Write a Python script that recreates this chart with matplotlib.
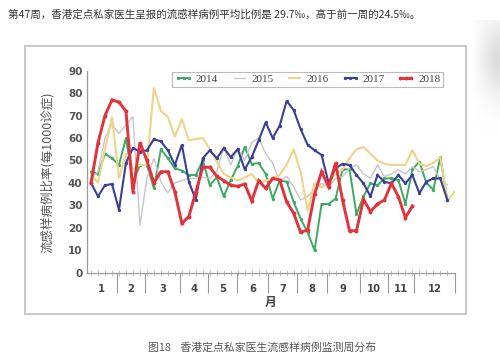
import matplotlib
matplotlib.use("Agg")
import matplotlib.pyplot as plt
import matplotlib.patches as mpatches
import matplotlib.transforms as mtransforms
import numpy as np

plt.rcParams['font.family'] = ['Noto Sans CJK SC', 'DejaVu Sans']

# ---------------- data ----------------
years = ["2014", "2015", "2016", "2017", "2018"]
ili_2014 = [45, 44, 53, 51, 48, 60, 40, 48, 48, 37.6,
            55, 51, 46.5, 45.5, 43.5, 43.5, 50, 39, 42.5, 34,
            41.3, 47.5, 56, 48.5, 48.8, 44, 33, 41, 40.6, 31.6,
            24, 18, 10, 30.6, 30.6, 33, 46, 46, 26, 34,
            39.8, 39, 42, 42, 41.3, 30.6, 46, 49.5, 40, 37,
            51.4, 32.4]
ili_2015 = [42, 45, 60, 66, 62, 66, 69.5, 21, 42, 51,
            40.5, 35.5, 40, 41, 42, 42, 42.5, 42, 45, 56,
            48, 55.5, 50, 58, 60, 53, 48.8, 40.6, 43, 38.3,
            32.4, 34, 37, 39.8, 38.3, 42, 42.8, 46.5, 48, 44,
            42, 48, 42.8, 44, 45.8, 44, 47.2, 45, 46, 47.2,
            41.3, 39]
ili_2016 = [44, 40, 55, 69.5, 42, 53, 46, 48, 48, 82.5,
            72, 69.5, 60.5, 68.5, 59, 59.5, 60, 55, 49.5, 44,
            42.5, 41, 42.5, 44, 40, 41, 42, 43.5, 48, 55,
            45, 27.5, 40, 38, 40, 44, 46, 51, 55, 56,
            53, 50, 48.5, 48, 48, 48, 54.7, 48.5, 47.5, 49,
            51.5, 32, 36]
ili_2017 = [40, 34, 39, 39.5, 28, 49, 55.5, 54, 54.5, 59.5,
            58.5, 54.5, 48, 57, 40.5, 32.5, 51, 54.5, 51, 55.5,
            51.5, 55, 46, 51.5, 59, 67, 60, 65.5, 76.5, 72.5,
            64, 57, 54.5, 52.5, 40, 46.5, 48.5, 48, 43.5, 39.8,
            34, 43.5, 40.5, 39.8, 43.5, 39.8, 43.5, 35.4, 40.6, 42,
            42, 32.4]
ili_2018 = [40, 58, 70, 77, 76, 72, 36, 58, 50, 40,
            45, 45, 36, 22, 25, 36, 47, 47, 43, 41,
            39, 38.5, 39.5, 32, 41, 37.6, 42, 41.3, 31.6, 26.5,
            18, 19, 35, 45, 38.3, 48.8, 32.4, 18.7, 18.7, 32.7,
            27.2, 30.6, 32.4, 39.8, 33.9, 24.5, 29.7]
month_labels = ["1", "2", "3", "4", "5", "6", "7", "8", "9", "10", "11", "12"]
month_edges = [0.38, 4.68, 8.73, 13.74, 17.75, 21.86, 26.34, 30.45, 34.74, 39.5, 43.5, 47.3, 53.1]
y_ticks = [0, 10, 20, 30, 40, 50, 60, 70, 80, 90]

title_text = "第47周，香港定点私家医生呈报的流感样病例平均比例是 29.7‰，高于前一周的24.5‰。"
caption_text = "图18    香港定点私家医生流感样病例监测周分布"
ylabel_text = "流感样病例比率(每1000诊症)"
xlabel_text = "月"

# ---------------- figure ----------------
W, H = 500, 359
fig = plt.figure(figsize=(W / 100, H / 100), dpi=100)
fig.patch.set_facecolor("white")

def fx(x):
    return x / W

def fy(y):
    return 1 - y / H

# soft grey blur at top right (edge of a neighbouring picture)
bax = fig.add_axes([fx(462), fy(130), fx(38), 110 / H])
bax.set_axis_off()
gx = np.linspace(0, 1, 60)
gy = np.linspace(0, 1, 120)
GX, GY = np.meshgrid(gx, gy)
blur = np.clip((GX - 0.25) * 1.6, 0, 1) * np.exp(-((GY - 0.35) / 0.35) ** 2)
rgba = np.zeros((120, 60, 4))
rgba[..., :3] = 0.62
rgba[..., 3] = 0.35 * blur
bax.imshow(rgba, aspect="auto", extent=[0, 1, 0, 1], interpolation="bilinear")

# chart frame
fig.patches.append(mpatches.Rectangle((fx(25), fy(314)), fx(441), (314 - 46) / H,
                                      transform=fig.transFigure, facecolor="white",
                                      edgecolor="#c4c4c4", lw=1.3, zorder=1))

fig.text(fx(8), fy(15), title_text, fontsize=7.6, color="#333333", va="center", ha="left")
fig.text(fx(262), fy(347), caption_text, fontsize=7.8, color="#555555", va="center", ha="center")

ax = fig.add_axes([fx(86.7), fy(272.7), fx(455 - 86.7), (272.7 - 70.7) / H])
ax.set_zorder(2)
ax.patch.set_alpha(0)

series = [
    (ili_2014, "#3daa62", 1.4, "o", 2.4),
    (ili_2015, "#c6c6cc", 1.0, None, 0),
    (ili_2016, "#ecd488", 1.5, None, 0),
    (ili_2017, "#3a3f98", 1.5, "o", 2.4),
    (ili_2018, "#e2323c", 2.1, "o", 2.8),
]
handles = []
for (vals, col, lw, mk, ms), lab in zip(series, years):
    wk = np.arange(1, len(vals) + 1)
    ln, = ax.plot(wk, vals, color=col, lw=lw, marker=mk, markersize=ms,
                  markeredgewidth=0, label=lab, solid_joinstyle="miter")
    handles.append(ln)

ax.set_xlim(month_edges[0], month_edges[-1])
ax.set_ylim(0, 90)
ax.set_yticks(y_ticks)
ax.set_yticklabels([str(v) for v in y_ticks], fontsize=7.5, color="#555555",
                   family=["DejaVu Sans"], fontweight="bold")
ax.tick_params(axis="y", length=0, pad=3)

ax.set_xticks(month_edges[1:])
ax.set_xticklabels([])
ax.tick_params(axis="x", which="major", length=14.5, width=0.8, color="#9a9a9a", direction="out")
ax.set_xticks(np.arange(1, 53), minor=True)
ax.tick_params(axis="x", which="minor", length=4, width=0.5, color="#aaaaaa", direction="inout")

for s in ["top", "right"]:
    ax.spines[s].set_visible(False)
for s in ["left", "bottom"]:
    ax.spines[s].set_color("#9a9a9a")
    ax.spines[s].set_linewidth(0.9)

trans = mtransforms.blended_transform_factory(ax.transData, ax.transAxes)
for i, lab in enumerate(month_labels):
    c = (month_edges[i] + month_edges[i + 1]) / 2
    ax.text(c, -0.083, lab, transform=trans, ha="center", va="center",
            fontsize=7.2, color="#444444", family=["DejaVu Sans"], fontweight="bold")

fig.text(fx(271), fy(302), xlabel_text, fontsize=8.5, color="#444444",
         ha="center", va="center", fontweight="bold")
fig.text(fx(47), fy(172), ylabel_text, fontsize=9, color="#555555",
         ha="center", va="center", rotation=90)

leg = fig.legend(handles=handles, loc="upper left", bbox_to_anchor=(fx(172), fy(71.5)),
                 ncol=5, prop={"family": "Liberation Serif", "size": 8},
                 handlelength=1.6, handletextpad=0.3, columnspacing=1.1, numpoints=3,
                 borderpad=0.25, frameon=True, fancybox=False, edgecolor="#aaaaaa",
                 borderaxespad=0)
leg.get_frame().set_linewidth(0.8)
for t in leg.get_texts():
    t.set_color("#444444")

fig.savefig("out.png", dpi=100, facecolor="white")
